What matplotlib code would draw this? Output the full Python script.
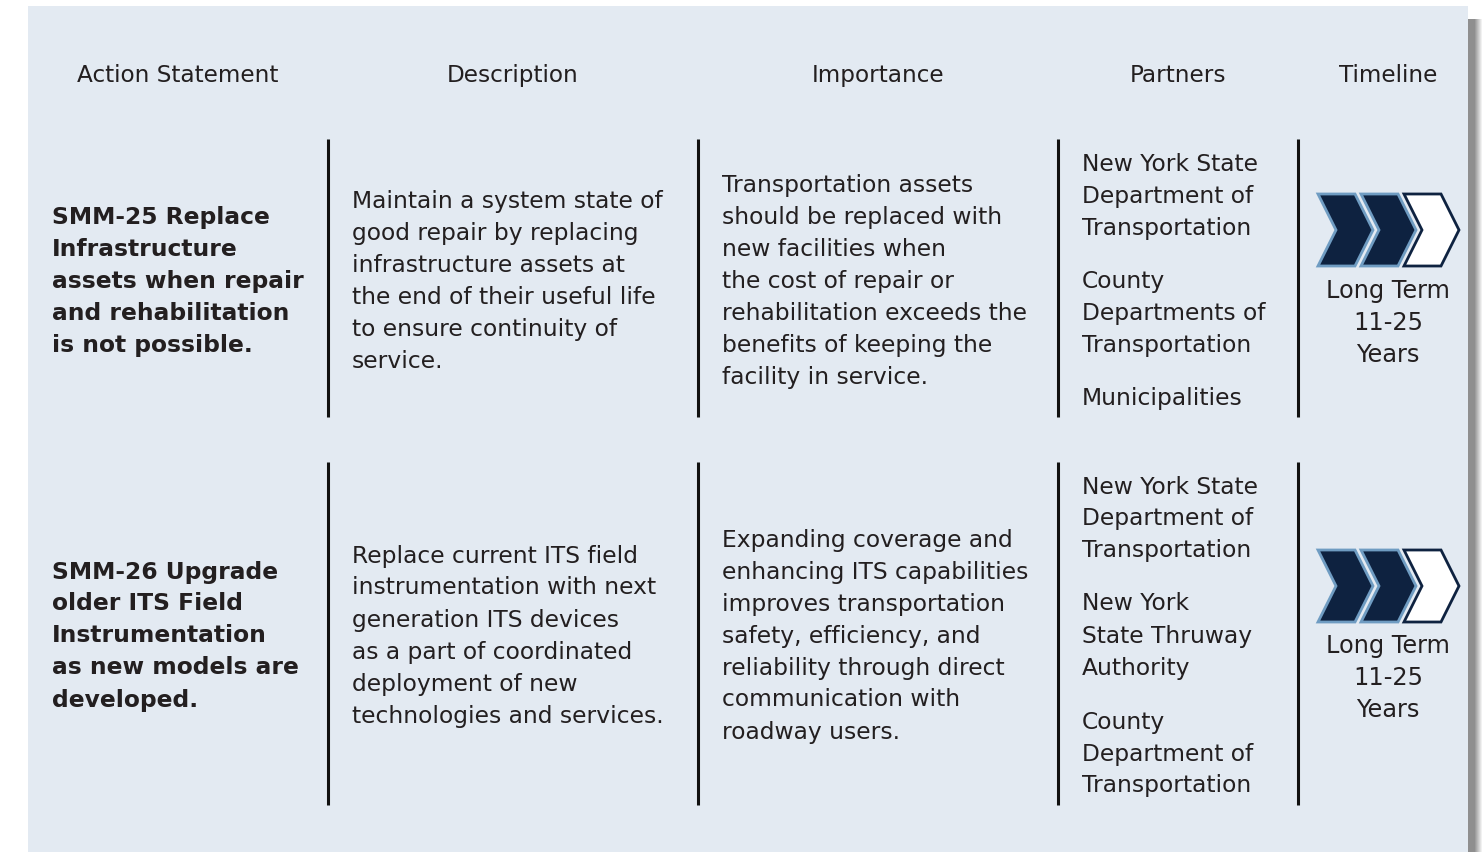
import numpy as np
import matplotlib.pyplot as plt
from matplotlib.patches import Rectangle, Polygon

# column headers
headers = ["Action Statement", "Description", "Importance", "Partners", "Timeline"]

# one entry per row, each a list of text lines
actions = [
    ["SMM-25 Replace", "Infrastructure", "assets when repair", "and rehabilitation", "is not possible."],
    ["SMM-26 Upgrade", "older ITS Field", "Instrumentation", "as new models are", "developed."],
]
descriptions = [
    ["Maintain a system state of", "good repair by replacing", "infrastructure assets at",
     "the end of their useful life", "to ensure continuity of", "service."],
    ["Replace current ITS field", "instrumentation with next", "generation ITS devices",
     "as a part of coordinated", "deployment of new", "technologies and services."],
]
importance = [
    ["Transportation assets", "should be replaced with", "new facilities when",
     "the cost of repair or", "rehabilitation exceeds the", "benefits of keeping the",
     "facility in service."],
    ["Expanding coverage and", "enhancing ITS capabilities", "improves transportation",
     "safety, efficiency, and", "reliability through direct", "communication with",
     "roadway users."],
]
partners = [
    [["New York State", "Department of", "Transportation"],
     ["County", "Departments of", "Transportation"],
     ["Municipalities"]],
    [["New York State", "Department of", "Transportation"],
     ["New York", "State Thruway", "Authority"],
     ["County", "Department of", "Transportation"]],
]
timeline = [["Long Term", "11-25", "Years"], ["Long Term", "11-25", "Years"]]
# chevrons filled (out of 3)
filled = [2, 2]

W, H = 1483, 853
BG = "#e3eaf2"
TXT = "#231f20"
NAVY = "#0e2240"
EDGE = "#6f9cc2"
LH = 32  # line height px

fig = plt.figure(figsize=(W / 100, H / 100), dpi=100)
ax = fig.add_axes([0, 0, 1, 1])
ax.set_xlim(0, W)
ax.set_ylim(H, 0)
ax.axis("off")

# shadow on right
for i in range(16):
    g = 0.56 if i < 8 else 0.56 + 0.44 * ((i - 7) / 8)
    ax.add_patch(Rectangle((1467 + i, 20), 1.2, H - 20, color=(g, g, g), lw=0, zorder=0))
ax.add_patch(Rectangle((28, 7), 1440, H, color=BG, lw=0, zorder=1))

font = "DejaVu Sans"
fs = 16.8

hx = [178, 513, 878, 1178, 1388]
for x, h in zip(hx, headers):
    ax.text(x, 75, h, ha="center", va="center", fontsize=16.7, color=TXT, family=font, zorder=3)

def lines(x, y0, ls, bold=False, ha="left", size=fs):
    for i, s in enumerate(ls):
        ax.text(x, y0 + i * LH, s, ha=ha, va="center", fontsize=size, color=TXT,
                family=font, fontweight="bold" if bold else "normal", zorder=3)

def chevron(x, yc, h, fc, ec):
    w, d = 37, 18
    pts = [(x, yc - h / 2), (x + w, yc - h / 2), (x + w + d, yc), (x + w, yc + h / 2),
           (x, yc + h / 2), (x + d, yc)]
    ax.add_patch(Polygon(pts, closed=True, fc=fc, ec=ec, lw=2, joinstyle="miter", zorder=3))

row_top = [140, 463]
row_bot = [418, 806]
act_y = [217, 572]
desc_y = [201, 556]
imp_y = [185, 540]
part_y = [[164, 281, 398], [487, 604, 722]]
chev_y = [231, 587]
time_y = [291, 646]

for r in range(2):
    for x in [328, 698, 1058, 1298]:
        ax.plot([x, x], [row_top[r], row_bot[r]], color="#111111", lw=2.2, zorder=3,
                solid_capstyle="butt")
    lines(52, act_y[r], actions[r], bold=True)
    lines(352, desc_y[r], descriptions[r])
    lines(722, imp_y[r], importance[r])
    for y0, grp in zip(part_y[r], partners[r]):
        lines(1082, y0, grp)
    for k in range(3):
        if k < filled[r]:
            chevron(1318 + 43 * k, chev_y[r], 72, NAVY, EDGE)
        else:
            chevron(1318 + 43 * k, chev_y[r], 72, "white", NAVY)
    lines(1388, time_y[r], timeline[r], ha="center", size=17.3)

fig.savefig("out.png", dpi=100)
